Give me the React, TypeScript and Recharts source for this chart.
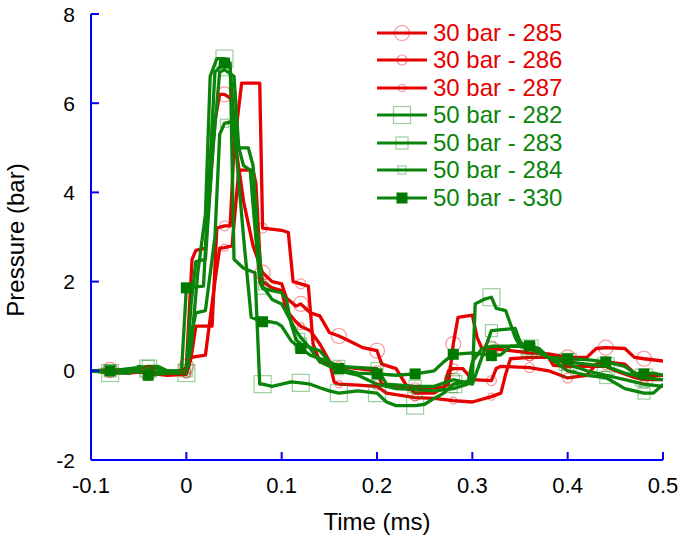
import { LineChart, Line, XAxis, YAxis } from 'recharts';

// time (ms), pressure (bar)
const bar30_285 = [
  [-0.1, 0], [-0.08, 0.02], [-0.06, 0], [-0.04, -0.05], [-0.02, -0.05], [-0.005, -0.05], [0, 0.1],
  [0.006, 2.5], [0.01, 2.7], [0.02, 2.75], [0.03, 5.6], [0.035, 6.2], [0.04, 6.2], [0.047, 6.1],
  [0.052, 5.0], [0.06, 3.8], [0.07, 2.8], [0.075, 2.5], [0.08, 2.2], [0.09, 2.0], [0.1, 1.95],
  [0.105, 1.63], [0.115, 1.45], [0.12, 1.5], [0.13, 1.3], [0.14, 1.23], [0.15, 0.86], [0.16, 0.78],
  [0.17, 0.68], [0.185, 0.52], [0.2, 0.45], [0.205, 0.15], [0.22, 0.05], [0.23, -0.3], [0.24, -0.5],
  [0.26, -0.5], [0.275, -0.3], [0.28, 0.6], [0.285, 1.2], [0.3, 1.25], [0.305, 0.75], [0.31, 0.5],
  [0.32, 0.5], [0.34, 0.45], [0.36, 0.4], [0.38, 0.38], [0.4, 0.3], [0.42, 0.3], [0.43, 0.5],
  [0.44, 0.52], [0.46, 0.5], [0.47, 0.3], [0.48, 0.27], [0.5, 0.22],
];
const bar30_286 = [
  [-0.1, 0], [-0.08, -0.03], [-0.06, -0.05], [-0.04, 0], [-0.02, -0.08], [0, -0.05], [0.005, 0.3],
  [0.01, 1.0], [0.027, 1.0], [0.032, 3.2], [0.04, 3.25], [0.046, 3.25], [0.05, 5.0], [0.058, 6.45],
  [0.077, 6.45], [0.08, 3.2], [0.1, 3.15], [0.107, 3.1], [0.112, 2.0], [0.12, 1.95], [0.128, 1.9],
  [0.133, 0.6], [0.14, 0.2], [0.15, 0.15], [0.16, 0.1], [0.18, 0.05], [0.2, 0.0], [0.205, -0.3],
  [0.22, -0.35], [0.24, -0.38], [0.27, -0.38], [0.275, 0.0], [0.28, 0.05], [0.29, 0.05], [0.3, -0.2],
  [0.32, -0.22], [0.325, 0.05], [0.33, 0.1], [0.36, 0.07], [0.38, 0.0], [0.4, -0.16], [0.42, -0.1],
  [0.43, 0.15], [0.44, 0.2], [0.46, 0.15], [0.47, -0.05], [0.48, -0.1], [0.5, -0.1],
];
const bar30_287 = [
  [-0.1, 0], [-0.08, 0], [-0.06, 0.03], [-0.04, -0.05], [-0.02, -0.1], [0, -0.08], [0.005, 0.3],
  [0.02, 0.35], [0.03, 2.0], [0.035, 2.75], [0.04, 2.76], [0.048, 2.8], [0.055, 4.5], [0.07, 4.5],
  [0.073, 4.2], [0.078, 2.2], [0.08, 2.0], [0.09, 1.86], [0.1, 1.8], [0.105, 1.35], [0.115, 1.1],
  [0.12, 1.0], [0.13, 0.9], [0.14, 0.6], [0.15, 0.22], [0.155, -0.25], [0.16, -0.3], [0.18, -0.32],
  [0.2, -0.35], [0.21, -0.5], [0.24, -0.6], [0.26, -0.62], [0.28, -0.67], [0.3, -0.7], [0.32, -0.58],
  [0.33, -0.5], [0.335, -0.07], [0.34, 0.27], [0.36, 0.3], [0.38, 0.3], [0.385, 0.12], [0.4, 0.1],
  [0.42, 0.1], [0.44, 0.1], [0.45, 0.0], [0.47, -0.15], [0.48, -0.2], [0.5, -0.2],
];
const bar50_282 = [
  [-0.1, 0], [-0.08, -0.05], [-0.06, -0.05], [-0.05, 0.1], [-0.04, 0.05], [-0.03, 0.05], [-0.02, -0.05],
  [0, -0.05], [0.005, 0.5], [0.012, 2.2], [0.02, 3.5], [0.025, 6.6], [0.032, 7.0], [0.04, 7.0],
  [0.046, 6.9], [0.05, 2.5], [0.06, 2.3], [0.072, 2.2], [0.077, -0.3], [0.08, -0.3], [0.09, -0.35],
  [0.1, -0.3], [0.11, -0.25], [0.12, -0.27], [0.13, -0.3], [0.14, -0.38], [0.15, -0.45], [0.16, -0.5],
  [0.18, -0.45], [0.2, -0.5], [0.21, -0.7], [0.22, -0.78], [0.24, -0.78], [0.25, -0.75], [0.26, -0.62],
  [0.27, -0.5], [0.28, -0.3], [0.3, -0.22], [0.303, 1.5], [0.312, 1.6], [0.32, 1.65], [0.325, 1.4],
  [0.335, 1.35], [0.345, 0.75], [0.35, 0.55], [0.36, 0.5], [0.38, 0.3], [0.4, 0.2], [0.42, 0.15],
  [0.44, 0.1], [0.46, -0.05], [0.48, -0.15], [0.5, -0.2],
];
const bar50_283 = [
  [-0.1, 0], [-0.08, 0], [-0.06, 0.05], [-0.04, 0.1], [-0.03, 0.1], [-0.02, 0], [0, 0], [0.005, 1.5],
  [0.01, 2.45], [0.02, 2.5], [0.028, 5.0], [0.035, 6.7], [0.04, 6.75], [0.05, 6.6], [0.055, 5.0],
  [0.06, 4.6], [0.067, 4.5], [0.072, 3.2], [0.077, 2.0], [0.08, 1.85], [0.09, 1.8], [0.1, 1.75],
  [0.105, 1.6], [0.11, 1.05], [0.115, 0.7], [0.12, 0.6], [0.14, 0.45], [0.15, 0.2], [0.16, 0.1],
  [0.2, 0.05], [0.21, -0.3], [0.24, -0.35], [0.26, -0.35], [0.28, -0.2], [0.3, -0.3], [0.31, 0.3],
  [0.32, 0.9], [0.345, 0.95], [0.35, 0.65], [0.36, 0.5], [0.38, 0.3], [0.4, 0.0], [0.42, -0.1],
  [0.44, -0.15], [0.46, -0.4], [0.48, -0.5], [0.49, -0.5], [0.5, -0.3],
];
const bar50_284 = [
  [-0.1, 0], [-0.08, 0.02], [-0.06, 0], [-0.04, -0.05], [-0.02, 0], [0, 0], [0.005, 0.8], [0.01, 1.3],
  [0.02, 1.35], [0.03, 3.0], [0.035, 5.3], [0.04, 5.55], [0.05, 5.6], [0.055, 5.0], [0.065, 5.0],
  [0.07, 4.6], [0.075, 3.0], [0.08, 1.9], [0.09, 1.6], [0.1, 1.5], [0.115, 0.9], [0.12, 0.75],
  [0.13, 0.5], [0.14, 0.2], [0.16, 0.0], [0.18, -0.1], [0.2, -0.3], [0.22, -0.4], [0.24, -0.42],
  [0.26, -0.45], [0.28, -0.4], [0.295, -0.3], [0.3, 0.2], [0.31, 0.5], [0.32, 0.55], [0.33, 0.55],
  [0.36, 0.55], [0.38, 0.3], [0.4, 0.15], [0.42, 0.0], [0.44, -0.1], [0.46, -0.2], [0.48, -0.3],
  [0.5, -0.35],
];
const bar50_330 = [
  [-0.1, 0], [-0.08, 0], [-0.06, -0.05], [-0.05, 0.05], [-0.04, -0.1], [-0.02, -0.05], [-0.005, 0],
  [0, 1.86], [0.018, 1.9], [0.03, 6.7], [0.04, 6.9], [0.046, 6.8], [0.052, 5.0], [0.06, 3.0],
  [0.068, 1.2], [0.08, 1.1], [0.087, 1.1], [0.095, 1.07], [0.1, 1.0], [0.11, 0.67], [0.12, 0.5],
  [0.13, 0.35], [0.15, 0.2], [0.16, 0.05], [0.18, -0.05], [0.2, -0.07], [0.22, -0.1], [0.24, -0.07],
  [0.26, 0.0], [0.27, 0.2], [0.28, 0.37], [0.3, 0.4], [0.32, 0.34], [0.33, 0.36], [0.34, 0.55],
  [0.36, 0.56], [0.37, 0.5], [0.38, 0.3], [0.4, 0.27], [0.42, 0.25], [0.44, 0.2], [0.46, 0.1],
  [0.47, -0.05], [0.48, -0.07], [0.49, -0.05], [0.5, -0.1],
];

const X_TICKS = [-0.1, 0, 0.1, 0.2, 0.3, 0.4, 0.5];
const Y_TICKS = [-2, 0, 2, 4, 6, 8];

const RED = '#e60000';
const GREEN = '#0a840a';
const AXIS = '#0000ff';
const FONT = '"Liberation Sans", Arial, sans-serif';

type Shape = 'circle' | 'square' | 'filled';

const SERIES: { name: string; points: number[][]; color: string; shape: Shape; size: number }[] = [
  { name: '30 bar - 285', points: bar30_285, color: RED, shape: 'circle', size: 7.5 },
  { name: '30 bar - 286', points: bar30_286, color: RED, shape: 'circle', size: 5 },
  { name: '30 bar - 287', points: bar30_287, color: RED, shape: 'circle', size: 3.5 },
  { name: '50 bar - 282', points: bar50_282, color: GREEN, shape: 'square', size: 8.5 },
  { name: '50 bar - 283', points: bar50_283, color: GREEN, shape: 'square', size: 6 },
  { name: '50 bar - 284', points: bar50_284, color: GREEN, shape: 'square', size: 4 },
  { name: '50 bar - 330', points: bar50_330, color: GREEN, shape: 'filled', size: 5.5 },
];

// markers sit every 0.04 ms
const isMarkTime = (t: number) => {
  const k = Math.round(t * 1000);
  return Math.abs(t * 1000 - k) < 1e-6 && k % 40 === 0 && k >= -80 && k <= 480;
};

function Marker({ cx, cy, shape, size, color }: { cx: number; cy: number; shape: Shape; size: number; color: string }) {
  const light = color === RED ? 'rgba(230,0,0,0.4)' : 'rgba(10,132,10,0.4)';
  if (shape === 'circle') {
    return <circle cx={cx} cy={cy} r={size} fill="none" stroke={light} strokeWidth={1.2} />;
  }
  if (shape === 'square') {
    return <rect x={cx - size} y={cy - size} width={size * 2} height={size * 2} fill="none" stroke={light} strokeWidth={1.2} />;
  }
  return <rect x={cx - size} y={cy - size} width={size * 2} height={size * 2} fill="#007a00" stroke="none" />;
}

const makeDot = (s: (typeof SERIES)[number]) => (props: any) => {
  const { cx, cy, payload, index } = props;
  if (!payload || !isMarkTime(payload.t) || cx == null || cy == null) return <g key={`e${index}`} />;
  return (
    <g key={`m${index}`}>
      <Marker cx={cx} cy={cy} shape={s.shape} size={s.size} color={s.color} />
    </g>
  );
};

const TICK = 8;
const MARGIN = 8;

const YTick = (props: any) => {
  const { x, y, payload } = props;
  const axisX = x + TICK + MARGIN;
  return (
    <g>
      <line x1={axisX} x2={axisX + 8} y1={y} y2={y} stroke={AXIS} strokeWidth={2} />
      <text x={x} y={y} dy={7.5} textAnchor="end" fontSize={21} fontFamily={FONT} fill="#000">
        {payload.value}
      </text>
    </g>
  );
};

const XTick = (props: any) => {
  const { x, y, payload } = props;
  const axisY = y - TICK - MARGIN;
  return (
    <g>
      <line x1={x} x2={x} y1={axisY} y2={axisY - 8} stroke={AXIS} strokeWidth={2} />
      <text x={x} y={y} dy={17} textAnchor="middle" fontSize={22} fontFamily={FONT} fill="#000">
        {payload.value}
      </text>
    </g>
  );
};

function LegendBox() {
  return (
    <div style={{ position: 'absolute', left: 377, top: 19, fontFamily: FONT }}>
      {SERIES.map((s) => (
        <div key={s.name} style={{ display: 'flex', alignItems: 'center', height: 27.5 }}>
          <svg width={50} height={24} style={{ display: 'block' }}>
            <line x1={0} x2={50} y1={12} y2={12} stroke={s.color} strokeWidth={3} />
            <Marker cx={25} cy={12} shape={s.shape} size={s.size} color={s.color} />
          </svg>
          <span style={{ marginLeft: 6, fontSize: 24, color: s.color, lineHeight: '24px', whiteSpace: 'nowrap' }}>{s.name}</span>
        </div>
      ))}
    </div>
  );
}

export default function App() {
  return (
    <div style={{ position: 'relative', width: 686, height: 545, background: '#fff' }}>
      <style>{'body{margin:0}'}</style>
      <LineChart width={686} height={545} margin={{ top: 14, right: 23, bottom: 0, left: 0 }}>
        <XAxis
          type="number"
          dataKey="t"
          domain={[-0.1, 0.5]}
          ticks={X_TICKS}
          allowDataOverflow
          height={85}
          axisLine={{ stroke: AXIS, strokeWidth: 2 }}
          tickLine={false}
          tickSize={TICK}
          tickMargin={MARGIN}
          tick={<XTick />}
          interval={0}
        />
        <YAxis
          type="number"
          dataKey="p"
          domain={[-2, 8]}
          ticks={Y_TICKS}
          allowDataOverflow
          width={91}
          axisLine={{ stroke: AXIS, strokeWidth: 2 }}
          tickLine={false}
          tickSize={TICK}
          tickMargin={MARGIN}
          tick={<YTick />}
          interval={0}
        />
        {SERIES.map((s) => (
          <Line
            key={s.name}
            data={s.points.map(([t, p]) => ({ t, p }))}
            dataKey="p"
            name={s.name}
            type="linear"
            stroke={s.color}
            strokeWidth={3.3}
            strokeLinejoin="round"
            dot={makeDot(s)}
            activeDot={false}
            isAnimationActive={false}
          />
        ))}
      </LineChart>
      <LegendBox />
      <div
        style={{
          position: 'absolute', left: 377, top: 522, transform: 'translate(-50%, -50%)',
          fontFamily: FONT, fontSize: 24, whiteSpace: 'nowrap',
        }}
      >
        Time (ms)
      </div>
      <div
        style={{
          position: 'absolute', left: 16, top: 240, transform: 'translate(-50%, -50%) rotate(-90deg)',
          fontFamily: FONT, fontSize: 24, whiteSpace: 'nowrap',
        }}
      >
        Pressure (bar)
      </div>
    </div>
  );
}
